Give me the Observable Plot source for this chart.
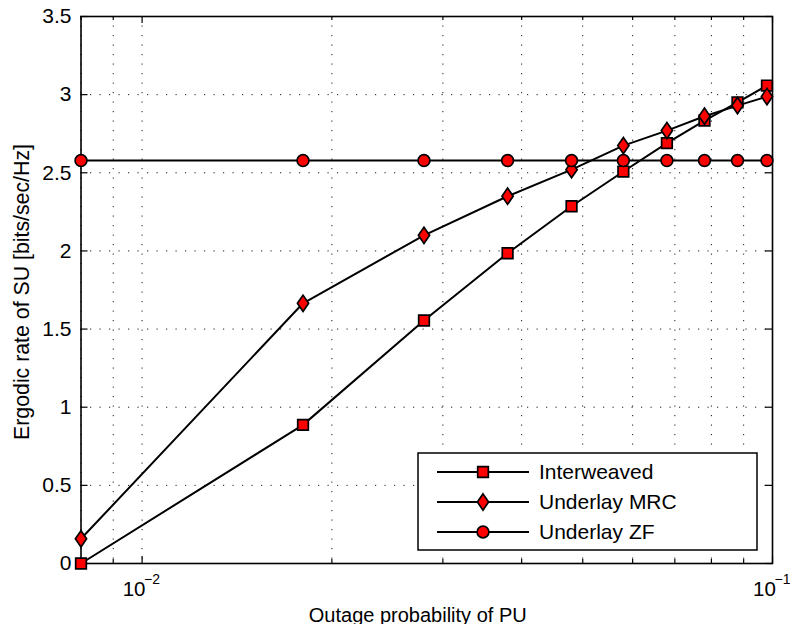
<!DOCTYPE html>
<html><head><meta charset="utf-8">
<script src="https://cdn.jsdelivr.net/npm/d3@7"></script>
<script src="https://cdn.jsdelivr.net/npm/@observablehq/plot@0.6"></script>
<style>body{margin:0;background:#fff}#chart{width:790px;height:624px}</style>
</head><body><div id="chart"></div>
<script>
// ---- data ----
const outageProb = [0.008, 0.018, 0.028, 0.038, 0.048, 0.058, 0.068, 0.078, 0.088, 0.098];
const interweaved = [0.0, 0.887, 1.555, 1.985, 2.286, 2.508, 2.690, 2.834, 2.951, 3.058];
const underlayMRC = [0.158, 1.665, 2.100, 2.350, 2.520, 2.674, 2.770, 2.862, 2.930, 2.988];
const underlayZF  = [2.578, 2.578, 2.578, 2.578, 2.578, 2.578, 2.578, 2.578, 2.578, 2.578];
const seriesNames = ["Interweaved", "Underlay MRC", "Underlay ZF"];
const yTicks = [0, 0.5, 1, 1.5, 2, 2.5, 3, 3.5];
const yTickLabels = ["0", "0.5", "1", "1.5", "2", "2.5", "3", "3.5"];
const xMajorTicks = [0.01, 0.1];
const xMajorExponents = ["\u22122", "\u22121"];
const xMinorTicks = [0.008, 0.009, 0.02, 0.03, 0.04, 0.05, 0.06, 0.07, 0.08, 0.09];
const xLabel = "Outage probability of PU";
const yLabel = "Ergodic rate of SU [bits/sec/Hz]";

// ---- layout ----
const W = 790, H = 624, mL = 80.5, mR = 18, mT = 16, mB = 61;
const fw = W - mL - mR, fh = H - mT - mB;
const font = "'Liberation Sans', Arial, Helvetica, sans-serif";
const fs = 20.5;

const squareSym = {draw(ctx, size) { const r = Math.sqrt(size / Math.PI); const h = r * 0.9; ctx.moveTo(-h, -h); ctx.lineTo(h, -h); ctx.lineTo(h, h); ctx.lineTo(-h, h); ctx.closePath(); }};
const diamondSym = {draw(ctx, size) { const r = Math.sqrt(size / Math.PI); const h = r * 1.38, w = r * 0.95; ctx.moveTo(0, -h); ctx.lineTo(w, 0); ctx.lineTo(0, h); ctx.lineTo(-w, 0); ctx.closePath(); }};
const circleSym = {draw(ctx, size) { const r = Math.sqrt(size / Math.PI); ctx.moveTo(r, 0); ctx.arc(0, 0, r, 0, 2 * Math.PI); }};
const symbols = [squareSym, diamondSym, circleSym];
const seriesValues = [interweaved, underlayMRC, underlayZF];
const rows = seriesNames.flatMap((name, i) => outageProb.map((x, j) => ({name, x, y: seriesValues[i][j]})));

const gridStyle = {stroke: "#000", strokeWidth: 1, strokeDasharray: "1.2,8.3", strokeOpacity: 0.9};
const tickStyle = {stroke: "#000", strokeWidth: 1.2};

const seriesMarks = seriesNames.flatMap((name, i) => {
  const d = rows.filter(r => r.name === name);
  return [
    Plot.line(d, {x: "x", y: "y", stroke: "#000", strokeWidth: 2}),
    Plot.dot(d, {x: "x", y: "y", symbol: symbols[i], r: 5.9, fill: "#ff0000", stroke: "#000", strokeWidth: 1.7})
  ];
});

const plot = Plot.plot({
  width: W, height: H,
  marginLeft: mL, marginRight: mR, marginTop: mT, marginBottom: mB,
  style: {fontFamily: font, background: "#fff", overflow: "visible"},
  x: {type: "log", domain: [0.008, 0.1], axis: null},
  y: {domain: [0, 3.5], axis: null},
  marks: [
    Plot.ruleX(xMinorTicks.concat(xMajorTicks), {x: d => d, ...gridStyle}),
    Plot.ruleY(yTicks, {y: d => d, ...gridStyle}),
    // inward ticks
    Plot.ruleX(xMajorTicks, {x: d => d, insetTop: fh - 7, ...tickStyle}),
    Plot.ruleX(xMajorTicks, {x: d => d, insetBottom: fh - 7, ...tickStyle}),
    Plot.ruleX(xMinorTicks, {x: d => d, insetTop: fh - 4, ...tickStyle}),
    Plot.ruleX(xMinorTicks, {x: d => d, insetBottom: fh - 4, ...tickStyle}),
    Plot.ruleY(yTicks, {y: d => d, insetRight: fw - 7, ...tickStyle}),
    Plot.ruleY(yTicks, {y: d => d, insetLeft: fw - 7, ...tickStyle}),
    Plot.frame({stroke: "#000", strokeWidth: 1.6}),
    // tick labels
    Plot.text(yTicks, {y: d => d, text: (d, i) => yTickLabels[i], frameAnchor: "left", textAnchor: "end", dx: -9.5, fontSize: 21, fill: "#000"}),
    Plot.text(xMajorTicks, {x: d => d, text: () => "10", frameAnchor: "bottom", lineAnchor: "bottom", textAnchor: "middle", dx: -8, dy: 32, fontSize: fs, fill: "#000"}),
    Plot.text(xMajorTicks, {x: d => d, text: (d, i) => xMajorExponents[i], frameAnchor: "bottom", lineAnchor: "bottom", textAnchor: "middle", dx: 10, dy: 20, fontSize: 14, fill: "#000"}),
    // axis labels
    Plot.text([xLabel], {text: d => d, frameAnchor: "bottom", lineAnchor: "bottom", textAnchor: "middle", dx: -9, dy: 58, fontSize: 20, fill: "#000"}),
    Plot.text([yLabel], {text: d => d, frameAnchor: "left", lineAnchor: "bottom", textAnchor: "middle", rotate: -90, dx: -52.5, dy: 2, fontSize: 21.3, fill: "#000"}),
    ...seriesMarks
  ]
});
document.getElementById("chart").appendChild(plot);

// ---- legend ----
const svg = d3.select(plot);
const lg = svg.append("g").attr("font-family", font).attr("font-size", 21).attr("text-anchor", "start");
const bx = 418, by = 453, bw = 339, bh = 97;
lg.append("rect").attr("x", bx).attr("y", by).attr("width", bw).attr("height", bh)
  .attr("fill", "#fff").attr("stroke", "#000").attr("stroke-width", 1.5);
const r = 5.9;
seriesNames.forEach((name, i) => {
  const cy = 472 + i * 30;
  lg.append("line").attr("x1", 437).attr("x2", 529).attr("y1", cy).attr("y2", cy).attr("stroke", "#000").attr("stroke-width", 2);
  const p = d3.path(); symbols[i].draw(p, r * r * Math.PI);
  lg.append("path").attr("d", p.toString()).attr("transform", `translate(483,${cy})`)
    .attr("fill", "#ff0000").attr("stroke", "#000").attr("stroke-width", 1.7);
  lg.append("text").attr("x", 539).attr("y", cy).attr("dy", "0.35em").attr("text-anchor", "start").attr("fill", "#000").text(name);
});
</script></body></html>
